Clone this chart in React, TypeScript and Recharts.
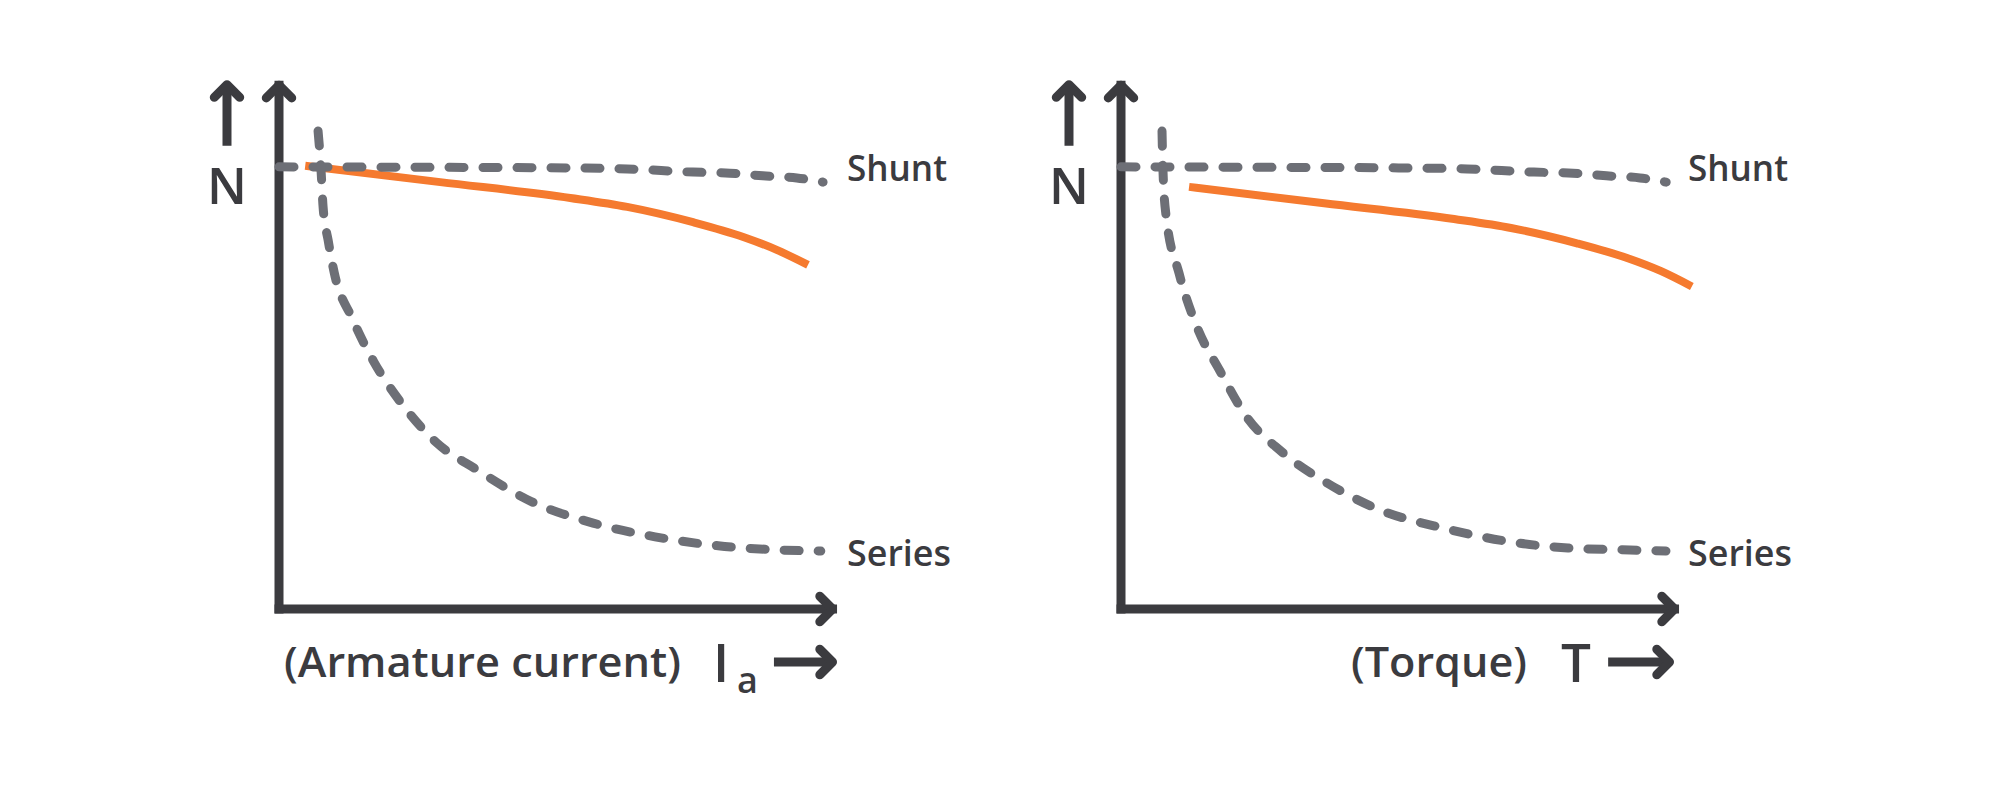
import React from 'react';
import { Line, LineChart, ReferenceLine, XAxis, YAxis } from 'recharts';

// speed N (0-100) against load (0-100)
const shuntLoad = [0, 30.6, 51.6, 62.4, 74.2, 80.8, 86.7, 92.8, 97.5];
const shuntSpeed = [83.9, 83.8, 83.7, 83.5, 82.9, 82.7, 82.2, 81.8, 81.0];

const compoundLoad = [4.7, 28.9, 52.2, 62.4, 74.2, 83.2, 89.3, 94.8];
const compoundSpeed = [84.1, 81.0, 78.0, 76.3, 73.4, 70.6, 68.1, 65.3];

const seriesLoad = [7.0, 7.5, 7.9, 8.8, 9.9, 13.1, 17.0, 21.9, 28.3, 35.5, 45.0, 56.3, 67.4, 78.7, 89.8, 97.1];
const seriesSpeed = [90.7, 83.9, 76.3, 70.0, 63.8, 55.2, 46.9, 39.1, 31.5, 26.4, 20.5, 16.3, 13.7, 12.0, 11.2, 11.0];

const shuntTorque = [0, 30.0, 50.0, 62.0, 74.0, 81.0, 87.0, 93.0, 97.7];
const shuntSpeedT = [83.9, 83.8, 83.7, 83.5, 82.9, 82.7, 82.2, 81.8, 81.0];

const compoundTorque = [12.2, 36.4, 59.7, 69.9, 81.7, 90.7, 96.8, 102.3];
const compoundSpeedT = [80.1, 77.0, 74.0, 72.3, 69.4, 66.6, 64.1, 61.2];

const seriesTorque = [7.35, 7.5, 8.06, 10.39, 13.62, 17.74, 22.4, 28.85, 36.92, 46.42, 57.71, 68.82, 80.11, 91.22, 97.67];
const seriesSpeedT = [90.7, 83.9, 74.76, 63.76, 53.51, 45.16, 36.62, 29.79, 23.91, 18.79, 15.37, 12.9, 11.57, 11.2, 11.01];

const DARK = '#3b3b3f';
const GRAY = '#6d6f76';
const ORANGE = '#f57a2f';
const FONT = "'Open Sans', 'Noto Sans', sans-serif";

const toPoints = (xs: number[], ys: number[]) => xs.map((x, i) => ({ x, n: ys[i] }));

// line with a chevron head at (x2, y2)
const arrowShape = (startCap: 'butt' | 'square') => (props: any) => {
	const { x1, y1, x2, y2 } = props;
	const len = Math.hypot(x2 - x1, y2 - y1) || 1;
	const bx = -(x2 - x1) / len;
	const by = -(y2 - y1) / len;
	const h = 18 * Math.SQRT1_2;
	const a1x = x2 + h * (bx - by);
	const a1y = y2 + h * (bx + by);
	const a2x = x2 + h * (bx + by);
	const a2y = y2 + h * (by - bx);
	return (
		<g>
			<line x1={x1} y1={y1} x2={x2} y2={y2} stroke={DARK} strokeWidth={9} strokeLinecap={startCap} />
			<path
				d={`M${a1x},${a1y}L${x2},${y2}L${a2x},${a2y}`}
				fill="none"
				stroke={DARK}
				strokeWidth={9}
				strokeLinecap="round"
				strokeLinejoin="round"
			/>
		</g>
	);
};

type PanelProps = {
	left: number;
	shunt: { x: number; n: number }[];
	compound: { x: number; n: number }[];
	series: { x: number; n: number }[];
	captionArrow: [number, number];
};

const Panel = ({ left, shunt, compound, series, captionArrow }: PanelProps) => (
	<div style={{ position: 'absolute', left, top: 0 }}>
		<LineChart width={1000} height={800} margin={{ top: 82, right: 107.2, bottom: 32.9, left: 223.2 }}>
			<XAxis type="number" dataKey="x" domain={[-10, 110]} hide />
			<YAxis type="number" domain={[-30, 100]} hide />
			<ReferenceLine segment={[{ x: 0, y: 0 }, { x: 0, y: 99.4 }]} shape={arrowShape('square')} />
			<ReferenceLine segment={[{ x: 0, y: 0 }, { x: 99.2, y: 0 }]} shape={arrowShape('square')} />
			<ReferenceLine segment={[{ x: -9.32, y: 87.9 }, { x: -9.32, y: 99.5 }]} shape={arrowShape('butt')} />
			<ReferenceLine
				segment={[{ x: captionArrow[0], y: -10.06 }, { x: captionArrow[1], y: -10.06 }]}
				shape={arrowShape('butt')}
			/>
			<Line
				data={compound}
				dataKey="n"
				type="monotone"
				stroke={ORANGE}
				strokeWidth={8}
				dot={false}
				activeDot={false}
				isAnimationActive={false}
			/>
			<Line
				data={shunt}
				dataKey="n"
				type="monotone"
				stroke={GRAY}
				strokeWidth={9}
				strokeDasharray="15 19"
				strokeLinecap="round"
				dot={false}
				activeDot={false}
				isAnimationActive={false}
			/>
			<Line
				data={series}
				dataKey="n"
				type="monotone"
				stroke={GRAY}
				strokeWidth={9}
				strokeDasharray="15 19"
				strokeLinecap="round"
				dot={false}
				activeDot={false}
				isAnimationActive={false}
			/>
		</LineChart>
	</div>
);

export default function App() {
	const txt = { fill: DARK, fontFamily: FONT, fontWeight: 600 } as const;
	return (
		<div style={{ position: 'absolute', left: 0, top: 0, width: 2000, height: 800, background: '#fff' }}>
			<Panel
				left={0}
				shunt={toPoints(shuntLoad, shuntSpeed)}
				compound={toPoints(compoundLoad, compoundSpeed)}
				series={toPoints(seriesLoad, seriesSpeed)}
				captionArrow={[88.7, 99.2]}
			/>
			<Panel
				left={842}
				shunt={toPoints(shuntTorque, shuntSpeedT)}
				compound={toPoints(compoundTorque, compoundSpeedT)}
				series={toPoints(seriesTorque, seriesSpeedT)}
				captionArrow={[87.3, 98.3]}
			/>
			<svg width={2000} height={800} style={{ position: 'absolute', left: 0, top: 0, pointerEvents: 'none' }}>
				<text x={227} y={204} textAnchor="middle" fontSize={51} {...txt}>N</text>
				<text x={847} y={181} fontSize={36} textLength={100} lengthAdjust="spacingAndGlyphs" {...txt}>Shunt</text>
				<text x={847} y={566} fontSize={36} textLength={104} lengthAdjust="spacingAndGlyphs" {...txt}>Series</text>
				<text x={284} y={677} fontSize={42} textLength={397} lengthAdjust="spacingAndGlyphs" {...txt}>
					(Armature current)
				</text>
				<text x={721} y={682} textAnchor="middle" fontSize={53} {...txt}>I</text>
				<text x={737} y={693} fontSize={36} {...txt}>a</text>

				<text x={1069} y={204} textAnchor="middle" fontSize={51} {...txt}>N</text>
				<text x={1688} y={181} fontSize={36} textLength={100} lengthAdjust="spacingAndGlyphs" {...txt}>Shunt</text>
				<text x={1688} y={566} fontSize={36} textLength={104} lengthAdjust="spacingAndGlyphs" {...txt}>Series</text>
				<text x={1351} y={677} fontSize={42} textLength={176} lengthAdjust="spacingAndGlyphs" {...txt}>
					(Torque)
				</text>
				<text x={1576} y={682} textAnchor="middle" fontSize={53} {...txt}>T</text>
			</svg>
		</div>
	);
}
